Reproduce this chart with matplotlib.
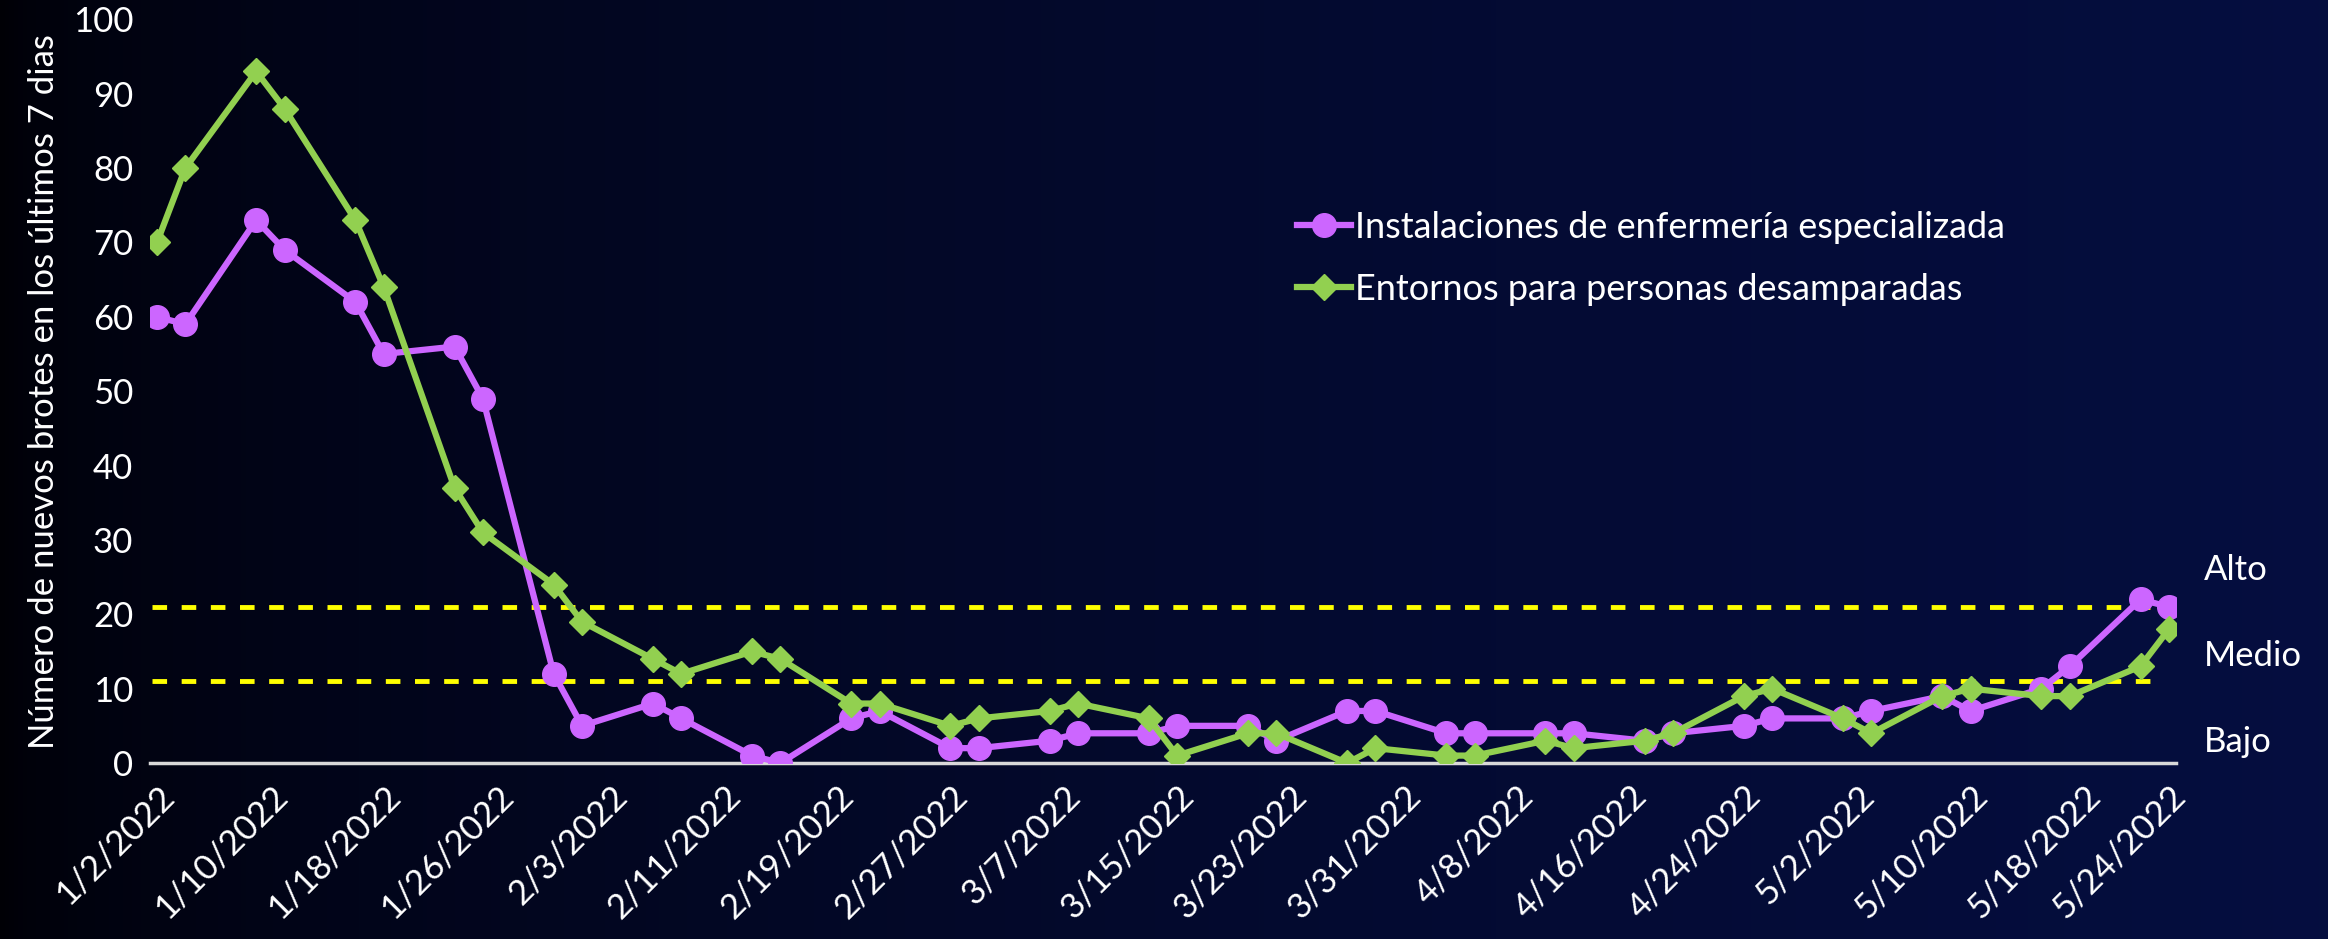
import numpy as np
import pandas as pd
import matplotlib
matplotlib.use('Agg')
from matplotlib import pyplot as plt
import matplotlib.dates as mdates

plt.rcParams['font.family'] = ['Lato', 'DejaVu Sans']

# data
dates = ['2022-01-02', '2022-01-04', '2022-01-09', '2022-01-11', '2022-01-16', '2022-01-18',
         '2022-01-23', '2022-01-25', '2022-01-30', '2022-02-01', '2022-02-06', '2022-02-08',
         '2022-02-13', '2022-02-15', '2022-02-20', '2022-02-22', '2022-02-27', '2022-03-01',
         '2022-03-06', '2022-03-08', '2022-03-13', '2022-03-15', '2022-03-20', '2022-03-22',
         '2022-03-27', '2022-03-29', '2022-04-03', '2022-04-05', '2022-04-10', '2022-04-12',
         '2022-04-17', '2022-04-19', '2022-04-24', '2022-04-26', '2022-05-01', '2022-05-03',
         '2022-05-08', '2022-05-10', '2022-05-15', '2022-05-17', '2022-05-22', '2022-05-24']
snf = [60, 59, 73, 69, 62, 55, 56, 49, 12, 5, 8, 6, 1, 0, 6, 7, 2, 2, 3, 4, 4,
       5, 5, 3, 7, 7, 4, 4, 4, 4, 3, 4, 5, 6, 6, 7, 9, 7, 10, 13, 22, 21]
homeless = [70, 80, 93, 88, 73, 64, 37, 31, 24, 19, 14, 12, 15, 14, 8, 8, 5, 6, 7, 8, 6,
            1, 4, 4, 0, 2, 1, 1, 3, 2, 3, 4, 9, 10, 6, 4, 9, 10, 9, 9, 13, 18]
tick_dates = ['2022-01-02', '2022-01-10', '2022-01-18', '2022-01-26', '2022-02-03', '2022-02-11',
              '2022-02-19', '2022-02-27', '2022-03-07', '2022-03-15', '2022-03-23', '2022-03-31',
              '2022-04-08', '2022-04-16', '2022-04-24', '2022-05-02', '2022-05-10', '2022-05-18',
              '2022-05-24']
series_names = ['Instalaciones de enfermería especializada', 'Entornos para personas desamparadas']
level_cut = [21, 11]
level_names = ['Alto', 'Medio', 'Bajo']
level_pos = [26, 14.4, 2.8]

x = pd.to_datetime(dates)
ticks = pd.to_datetime(tick_dates)

fig = plt.figure(figsize=(23.28, 9.39), dpi=100)

# gradient background: black on the left to navy on the right
bg = fig.add_axes([0, 0, 1, 1], zorder=-10)
t = np.linspace(0, 1, 512) ** 0.55
left = np.array([0.0, 0.0, 0.02])
right = np.array([0.02, 0.055, 0.25])
grad = left[None, :] + t[:, None] * (right - left)[None, :]
bg.imshow(grad[None, :, :], aspect='auto', extent=[0, 1, 0, 1])
bg.axis('off')

ax = fig.add_axes([0.0644, 0.1874, 0.8703, 0.792])
ax.patch.set_alpha(0)

purple = '#CC66FF'
green = '#92D050'

ax.plot(x, snf, color=purple, lw=4.5, marker='o', markersize=17, label=series_names[0], zorder=3)
ax.plot(x, homeless, color=green, lw=4.5, marker='D', markersize=13.5, label=series_names[1], zorder=4)

x0 = x[0] - pd.Timedelta(hours=8)
x1 = x[-1] - pd.Timedelta(hours=20)
for c in level_cut:
    ax.hlines(c, x0, x1, colors='#FFFF00', linestyles=(0, (3, 3)), lw=3.5, zorder=2)

ax.set_xlim(x[0] - pd.Timedelta(hours=12), x[-1] + pd.Timedelta(hours=12))
ax.set_ylim(0, 100)
ax.set_yticks(range(0, 101, 10))
ax.set_xticks(ticks)
ax.xaxis.set_major_formatter(mdates.DateFormatter('%-m/%-d/%Y'))
ax.tick_params(axis='both', length=0, colors='white', labelsize=25)
ax.tick_params(axis='y', pad=12)
ax.tick_params(axis='x', pad=12)
for lab in ax.get_xticklabels():
    lab.set_rotation(45)
    lab.set_ha('right')
    lab.set_rotation_mode('anchor')

for s in ['top', 'right', 'left']:
    ax.spines[s].set_visible(False)
ax.spines['bottom'].set_color('#D9D9D9')
ax.spines['bottom'].set_linewidth(2.5)

ax.set_ylabel('Número de nuevos brotes en los últimos 7 dias', color='white', fontsize=25, labelpad=9)

for name, yv in zip(level_names, level_pos):
    ax.text(x[-1] + pd.Timedelta(days=2.5), yv, name, color='white', fontsize=25,
            va='center', ha='left', clip_on=False)

leg = ax.legend(loc='upper left', bbox_to_anchor=(0.55, 0.786), frameon=False, fontsize=26,
                handlelength=1.5, handletextpad=0.1, labelspacing=0.8, labelcolor='white')

fig.savefig('out.png', dpi=100)
